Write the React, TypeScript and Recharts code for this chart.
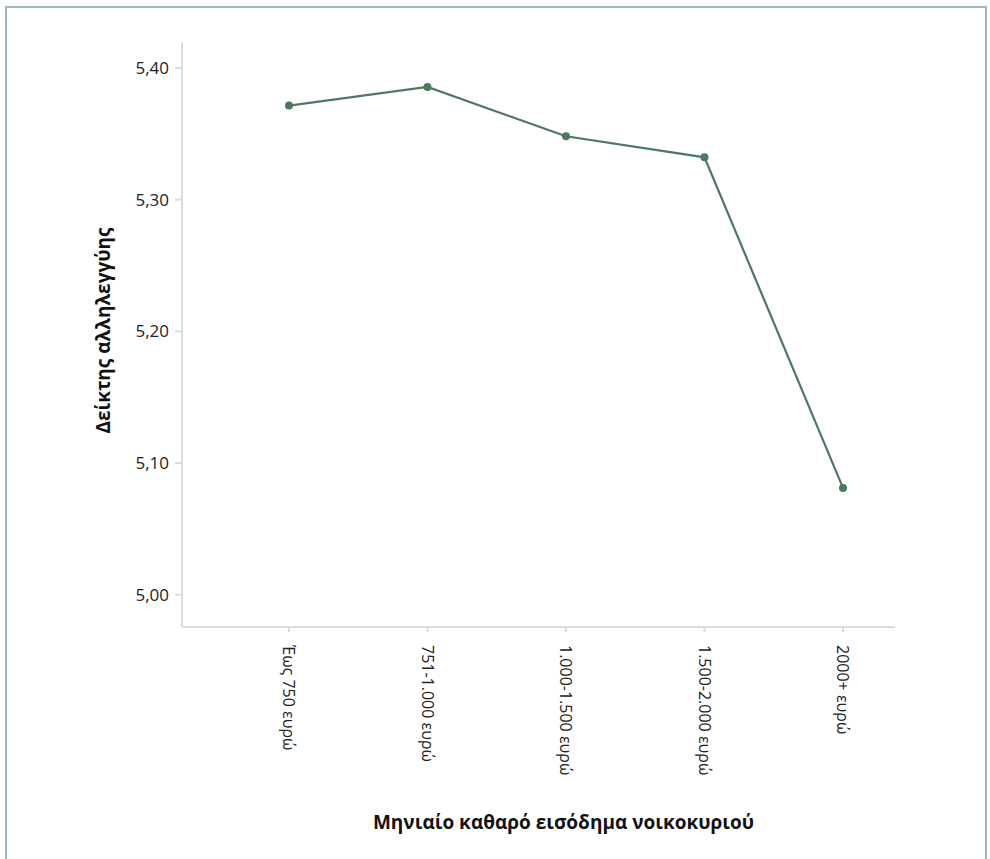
import { LineChart, Line, XAxis, YAxis, Label } from 'recharts';

const incomeBands = [
  'Έως 750 ευρώ',
  '751-1.000 ευρώ',
  '1.000-1.500 ευρώ',
  '1.500-2.000  ευρώ',
  '2000+ ευρώ',
];
const solidarityIndex = [5.3714, 5.3856, 5.3481, 5.3321, 5.0811];
const yTicks = [5.0, 5.1, 5.2, 5.3, 5.4];

const data = incomeBands.map((band, i) => ({ band, value: solidarityIndex[i] }));

const FONT = '"Open Sans", sans-serif';
const LINE = '#4b7a5f';
const AXIS = '#dcdcdc';

const fmt = (v: number) => v.toFixed(2).replace('.', ',');

// rotated category labels, reading top to bottom
const BandTick = (props: any) => {
  const { x, y, payload } = props;
  return (
    <g transform={`translate(${x},${y + 11})`}>
      <text
        transform="rotate(90)"
        x={0}
        y={0}
        dy={6}
        textAnchor="start"
        fill="#222"
        fontSize={16}
        fontFamily={FONT}
      >
        {payload.value}
      </text>
    </g>
  );
};

const YTitle = (props: any) => {
  const { viewBox } = props;
  const cx = 103;
  const cy = viewBox.y + viewBox.height / 2 - 4;
  return (
    <text
      x={cx}
      y={cy}
      transform={`rotate(-90, ${cx}, ${cy})`}
      textAnchor="middle"
      dominantBaseline="central"
      fill="#111"
      fontSize={19}
      fontWeight="bold"
      fontFamily={FONT}
    >
      Δείκτης αλληλεγγύης
    </text>
  );
};

export default function App() {
  return (
    <div style={{ position: 'absolute', left: 0, top: 0, width: 990, height: 859, overflow: 'hidden' }}>
      {/* outer frame */}
      <div
        style={{
          position: 'absolute',
          left: 5,
          top: 6,
          width: 982,
          height: 880,
          border: '2px solid #9fbcab',
          boxSizing: 'border-box',
        }}
      />
      <div style={{ position: 'absolute', left: 0, top: 0 }}>
        <LineChart
          width={990}
          height={859}
          data={data}
          margin={{ top: 42, right: 95, left: 0, bottom: 0 }}
        >
          <XAxis
            dataKey="band"
            height={232}
            padding={{ left: 107, right: 52 }}
            axisLine={{ stroke: AXIS, strokeWidth: 2 }}
            tickLine={{ stroke: AXIS, strokeWidth: 2 }}
            tickSize={5}
            interval={0}
            tick={<BandTick />}
          >
            <Label
              value="Μηνιαίο καθαρό εισόδημα νοικοκυριού"
              position="insideBottom"
              offset={30}
              dx={25}
              fill="#111"
              fontSize={19}
              fontWeight="bold"
              fontFamily={FONT}
            />
          </XAxis>
          <YAxis
            type="number"
            width={182}
            domain={[4.9755, 5.4197]}
            ticks={yTicks}
            tickFormatter={fmt}
            axisLine={{ stroke: AXIS, strokeWidth: 2 }}
            tickLine={{ stroke: AXIS, strokeWidth: 2 }}
            tickSize={7}
            tickMargin={6}
            tick={{ fill: '#222', fontSize: 17, fontFamily: FONT }}
          >
            <Label content={<YTitle />} />
          </YAxis>
          <Line
            type="linear"
            dataKey="value"
            stroke={LINE}
            strokeWidth={2.2}
            dot={{ r: 4, fill: LINE, stroke: LINE, strokeWidth: 0 }}
            activeDot={false}
            isAnimationActive={false}
          />
        </LineChart>
      </div>
    </div>
  );
}
